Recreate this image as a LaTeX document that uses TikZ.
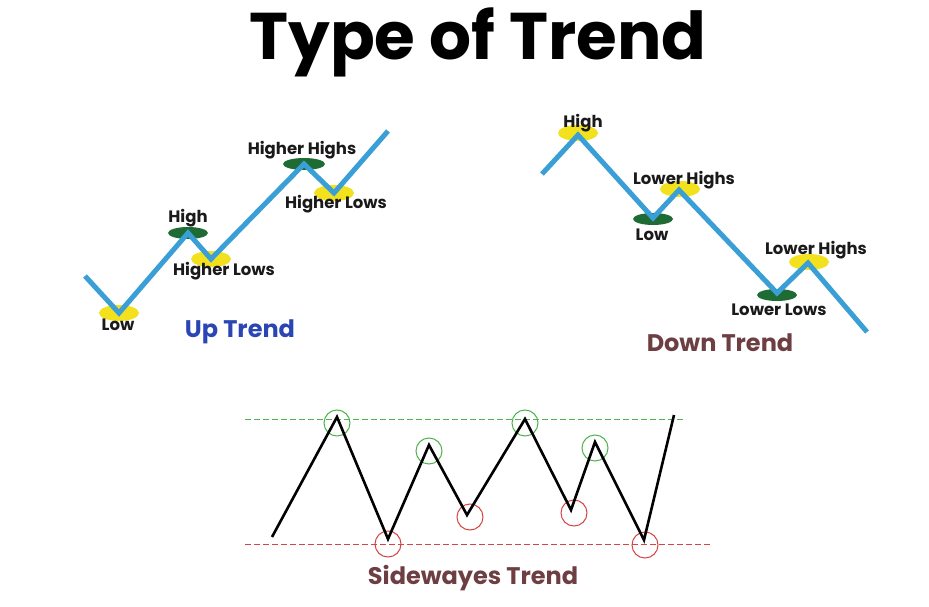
\documentclass[tikz,border=0pt]{standalone}
\usepackage{fontspec}
\setmainfont{Poppins}
\begin{document}
\begin{tikzpicture}[x=1pt,y=-1pt,
  trendline/.style={line width=5pt,color=trendblue,line join=miter},
  sideline/.style={line width=2.6pt,color=black,line join=miter},
  lbl/.style={font=\fontsize{16.5}{18}\selectfont\bfseries,text=labelblack,inner sep=0pt},
  heading/.style={font=\fontsize{24}{26}\selectfont\bfseries,inner sep=0pt},
  yel/.style={fill=hiyellow},
  grn/.style={fill=higreen},
  gcirc/.style={draw=circgreen,line width=1pt},
  rcirc/.style={draw=circred,line width=1pt}]
\definecolor{trendblue}{HTML}{3A9FD6}
\definecolor{hiyellow}{HTML}{F3E11E}
\definecolor{higreen}{HTML}{1F6B34}
\definecolor{labelblack}{HTML}{1A1A1A}
\definecolor{upblue}{HTML}{2B45B3}
\definecolor{downbrown}{HTML}{6E3F42}
\definecolor{circgreen}{HTML}{4DB34D}
\definecolor{circred}{HTML}{D64545}
\useasboundingbox[fill=white] (0,0) rectangle (929,607);

% Title
\node[font=\fontsize{66}{72}\selectfont\bfseries,inner sep=0pt] (title) at (478,42) {Type of Trend};

% ---------------- Up trend
\coordinate (u0) at (85,276);
\coordinate (u1) at (119,313);
\coordinate (u2) at (188,233);
\coordinate (u3) at (211,259);
\coordinate (u4) at (304,164);
\coordinate (u5) at (334,193);
\coordinate (u6) at (388,131);
\fill[yel] (u1) ellipse (20pt and 8pt);
\fill[grn] (u2) ellipse (20pt and 6pt);
\fill[yel] (u3) ellipse (20pt and 8pt);
\fill[grn] (u4) ellipse (21pt and 6pt);
\fill[yel] (u5) ellipse (20pt and 8pt);
\draw[trendline] (u0) -- (u1) -- (u2) -- (u3) -- (u4) -- (u5) -- (u6);
\node[lbl] (ulow) at (118,325) {Low};
\node[lbl] (uhigh) at (188,218) {High};
\node[lbl] (uhl1) at (224,271) {Higher Lows};
\node[lbl] (uhh) at (302,150) {Higher Highs};
\node[lbl] (uhl2) at (336,204) {Higher Lows};
\node[heading,text=upblue] (uptitle) at (240,332) {Up Trend};

% ---------------- Down trend
\coordinate (d0) at (542,174);
\coordinate (d1) at (578,135);
\coordinate (d2) at (653,218);
\coordinate (d3) at (679,190);
\coordinate (d4) at (777,293);
\coordinate (d5) at (808,263);
\coordinate (d6) at (867,332);
\fill[yel] (578,133) ellipse (20pt and 8pt);
\fill[grn] (653,219) ellipse (20pt and 6pt);
\fill[yel] (680,189) ellipse (20pt and 8pt);
\fill[grn] (777,295) ellipse (20pt and 6pt);
\fill[yel] (809,262) ellipse (20pt and 8pt);
\draw[trendline] (d0) -- (d1) -- (d2) -- (d3) -- (d4) -- (d5) -- (d6);
\node[lbl] (dhigh) at (583,123) {High};
\node[lbl] (dlh1) at (684,180) {Lower Highs};
\node[lbl] (dlow) at (652,235) {Low};
\node[lbl] (dlh2) at (816,250) {Lower Highs};
\node[lbl] (dll) at (779,310) {Lower Lows};
\node[heading,text=downbrown] (downtitle) at (720,343) {Down Trend};

% ---------------- Sideways trend
\coordinate (ga) at (245,419);
\coordinate (gb) at (683,419);
\coordinate (ra) at (245,544);
\coordinate (rb) at (712,544);
\draw[circgreen,line width=0.8pt,dash pattern=on 6pt off 3pt] (ga) -- (gb);
\draw[circred,line width=0.8pt,dash pattern=on 6pt off 3pt] (ra) -- (rb);
\coordinate (s0) at (272,537);
\coordinate (s1) at (337,417);
\coordinate (s2) at (388,539);
\coordinate (s3) at (429,445);
\coordinate (s4) at (467,515);
\coordinate (s5) at (525,419);
\coordinate (s6) at (571,510);
\coordinate (s7) at (595,442);
\coordinate (s8) at (644,540);
\coordinate (s9) at (674,415);
\draw[gcirc] (337,423) circle (13pt);
\draw[gcirc] (429,451) circle (13pt);
\draw[gcirc] (525,423) circle (13pt);
\draw[gcirc] (595,448) circle (13pt);
\draw[rcirc] (388,544) circle (13pt);
\draw[rcirc] (470,517) circle (13pt);
\draw[rcirc] (574,513) circle (13pt);
\draw[rcirc] (645,545) circle (13pt);
\draw[sideline] (s0) -- (s1) -- (s2) -- (s3) -- (s4) -- (s5) -- (s6) -- (s7) -- (s8) -- (s9);
\node[heading,text=downbrown] (sidetitle) at (473,578) {Sidewayes Trend};
\end{tikzpicture}
\end{document}
